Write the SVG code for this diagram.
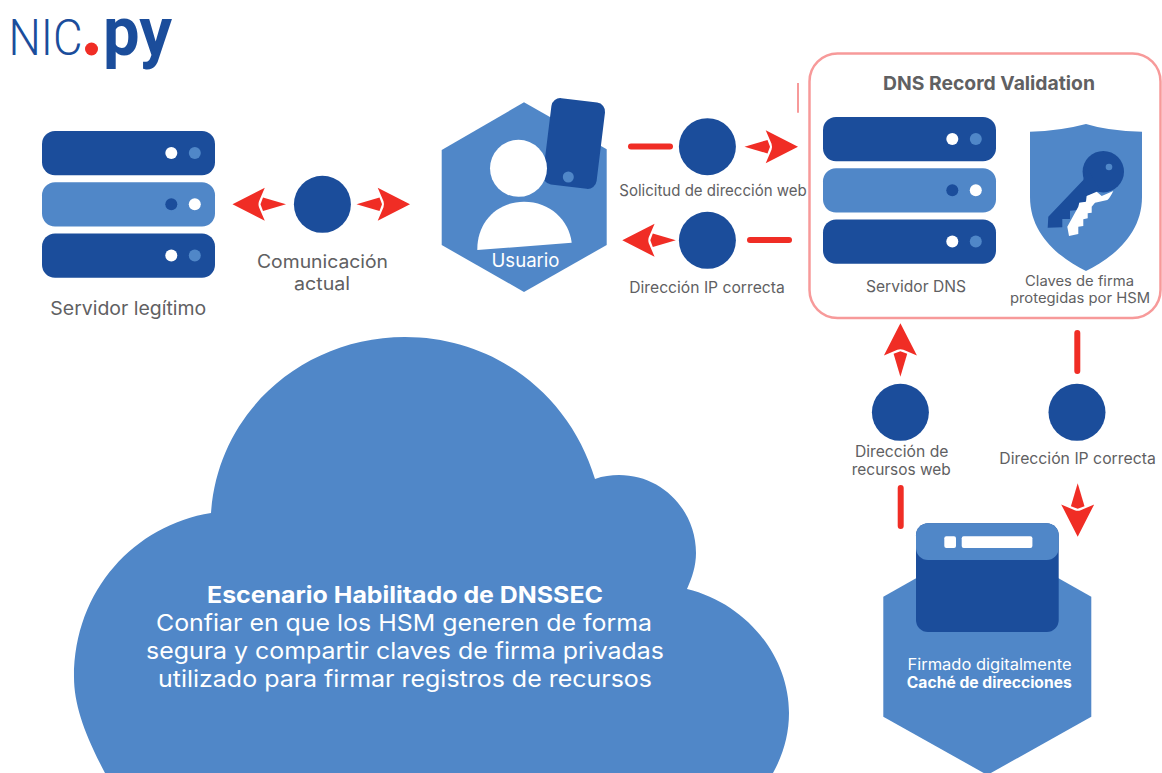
<svg xmlns="http://www.w3.org/2000/svg" width="1162" height="773" viewBox="0 0 1162 773">
<style>
.d{fill:#1b4d9b}.l{fill:#5087c8}.w{fill:#fff}.r{fill:#f02d25}
.t{font-family:"Inter","Liberation Sans",sans-serif;fill:#606062;font-size:15.500px;text-anchor:middle}
.tw{fill:#fff}.b{font-weight:700}
.ln{stroke:#f02d25;stroke-width:6;stroke-linecap:round;fill:none}
</style>
<defs>
<g id="arrow"><path class="r" d="M0 0L-32.300 -16.500L-26.500 -3Q-25.500 0 -26.500 3L-32.300 16.500Z"/><path class="r" d="M-53.500 0L-30.500 -6.800L-28 0L-30.500 6.800Z"/></g>
<g id="srvA"><rect class="d" width="173" height="44.300" rx="13"/><circle class="w" cx="129.300" cy="22" r="6"/><circle class="l" cx="152.800" cy="22" r="6"/></g>
<g id="srvB"><rect class="l" width="173" height="44.300" rx="13"/><circle class="d" cx="129.300" cy="22" r="6"/><circle class="w" cx="152.800" cy="22" r="6"/></g>
</defs>
<rect width="1162" height="773" fill="#fff"/>
<g id="logo">
<text x="8.500" y="55" font-family="Roboto,sans-serif" font-weight="300" font-size="50" fill="#1b4d9b" textLength="74" lengthAdjust="spacingAndGlyphs">NIC</text>
<circle class="r" cx="91.500" cy="49" r="6.500"/>
<text x="103" y="55" font-family="Roboto,sans-serif" font-weight="700" font-size="68" fill="#1b4d9b" textLength="69" lengthAdjust="spacingAndGlyphs">py</text>
</g>
<g id="cloud">
<path class="l" d="M105 773C85 735 74 705 74 677C74 590 135 525 211 513C218 410 305 337 405 337C495 337 570 395 595 479C603 476 611 475 619 475C662 475 696 510 696 553C696 566 692 578 687 589C745 603 789 655 789 713C789 735 783 755 773 773Z"/>
<text class="t tw b" x="405" y="603" style="font-size:23px" textLength="396" lengthAdjust="spacingAndGlyphs">Escenario Habilitado de DNSSEC</text>
<text class="t tw" x="404" y="631" style="font-size:23px" textLength="496" lengthAdjust="spacingAndGlyphs">Confiar en que los HSM generen de forma</text>
<text class="t tw" x="405" y="659" style="font-size:23px" textLength="518" lengthAdjust="spacingAndGlyphs">segura y compartir claves de firma privadas</text>
<text class="t tw" x="405" y="687" style="font-size:23px" textLength="494" lengthAdjust="spacingAndGlyphs">utilizado para firmar registros de recursos</text>
</g>
<g id="servidor-legitimo">
<use href="#srvA" x="42" y="131"/><use href="#srvB" x="42" y="182.300"/><use href="#srvA" x="42" y="233.500"/>
<text class="t" x="128.300" y="314.500" style="font-size:18.500px" textLength="156" lengthAdjust="spacingAndGlyphs">Servidor legítimo</text>
</g>
<g id="usuario">
<path class="l" d="M524 102.300L606.700 149.300V245L524 292L441.700 245V150Z"/>
<rect class="d" x="547" y="100" width="54" height="87" rx="9" transform="rotate(7 574 143.500)"/>
<circle class="l" cx="568.300" cy="177" r="5.500"/>
<circle class="w" cx="518.500" cy="168.300" r="28.500"/>
<path class="w" d="M477.300 250C477 222 497 201.700 524 201.700C550 201.700 569 220 571.700 242.700Z"/>
<text class="t tw" x="525.500" y="266.500" style="font-size:18.500px" textLength="68" lengthAdjust="spacingAndGlyphs">Usuario</text>
</g>
<g id="dns-validation">
<rect x="809.500" y="53.500" width="351" height="264.500" rx="28" fill="#fff" stroke="#f79a9a" stroke-width="2.500"/>
<text class="t b" x="989" y="90" style="font-size:19px" textLength="212" lengthAdjust="spacingAndGlyphs">DNS Record Validation</text>
<g id="servidor-dns">
<use href="#srvA" x="823" y="117"/><use href="#srvB" x="823" y="168.200"/><use href="#srvA" x="823" y="219.500"/>
<text class="t" x="916" y="292" textLength="100" lengthAdjust="spacingAndGlyphs">Servidor DNS</text>
</g>
<g id="claves-hsm">
<path class="l" d="M1086 124Q1060 131 1030 131.700V197C1030 235 1060 258 1086 271C1112 258 1142 235 1142 197V131.700Q1108 131 1086 124Z"/>
<circle class="d" cx="1103.300" cy="171.700" r="20.700"/>
<path class="d" d="M1086 166L1100 190L1095 193.300L1086.700 196L1086 201.700L1079.300 202.700L1078.300 210L1070 210.700V219H1062.300V227.300L1047.700 227.700L1048.300 216.700L1083.300 180Z"/>
<circle class="l" cx="1109" cy="167" r="3.300"/>
<path class="w" d="M1086.700 196L1096.700 191.700L1101.700 196L1113.300 191Q1110 198 1107.300 200L1095 202.700L1091.700 206.700V212.700L1087.700 213.300V218.300L1083.300 219.300V226L1078.300 226.700V234L1069 236L1067.300 226.700L1078.300 206.700L1079.300 202.700L1086 201.700Z"/>
<text class="t" x="1079.500" y="285.500" style="font-size:14px" textLength="109" lengthAdjust="spacingAndGlyphs">Claves de firma</text>
<text class="t" x="1080" y="302.500" style="font-size:14px" textLength="140" lengthAdjust="spacingAndGlyphs">protegidas por HSM</text>
</g>
</g>
<g id="cache">
<path class="l" d="M987.300 538L1091.300 596.700V716.700L987.300 775L883.300 716.700V596.700Z"/>
<rect class="d" x="916" y="523.300" width="142.700" height="108.700" rx="12"/>
<path class="l" d="M928 523.300H1046.700A12 12 0 0 1 1058.700 535.300V548A12 12 0 0 1 1046.700 560H928A12 12 0 0 1 916 548V535.300A12 12 0 0 1 928 523.300Z"/>
<rect class="w" x="944.300" y="536.300" width="11.700" height="11.700" rx="2"/>
<rect class="w" x="961.700" y="536.300" width="70.700" height="11.700" rx="2"/>
<text class="t tw" x="989.500" y="670" textLength="164" lengthAdjust="spacingAndGlyphs">Firmado digitalmente</text>
<text class="t tw b" x="989.300" y="687.700" textLength="165" lengthAdjust="spacingAndGlyphs">Caché de direcciones</text>
</g>
<g id="connectors">
<path d="M798 83V112.700" stroke="#f79a9a" stroke-width="2" fill="none"/>
<circle class="d" cx="322.400" cy="204.300" r="28.500"/>
<use href="#arrow" transform="translate(410,204.300)"/>
<use href="#arrow" transform="translate(232.500,204.300) rotate(180)"/>
<text class="t" x="322.500" y="268" style="font-size:18px" textLength="131" lengthAdjust="spacingAndGlyphs">Comunicación</text>
<text class="t" x="322" y="290" style="font-size:18px" textLength="56" lengthAdjust="spacingAndGlyphs">actual</text>
<path class="ln" d="M631 146.500H670"/>
<circle class="d" cx="707.400" cy="146.700" r="28.500"/>
<use href="#arrow" transform="translate(798,146.700)"/>
<text class="t" x="713" y="195.500" textLength="187.500" lengthAdjust="spacingAndGlyphs">Solicitud de dirección web</text>
<path class="ln" d="M750 240H789"/>
<circle class="d" cx="707.400" cy="240.300" r="28.500"/>
<use href="#arrow" transform="translate(622.300,240.300) rotate(180)"/>
<text class="t" x="707" y="293" textLength="155.500" lengthAdjust="spacingAndGlyphs">Dirección IP correcta</text>
<use href="#arrow" transform="translate(900.400,323.300) rotate(-90)"/>
<circle class="d" cx="900.400" cy="412.300" r="28.500"/>
<text class="t" x="901.700" y="457" textLength="93.500" lengthAdjust="spacingAndGlyphs">Dirección de</text>
<text class="t" x="901.300" y="475" textLength="99" lengthAdjust="spacingAndGlyphs">recursos web</text>
<path class="ln" d="M900.700 488V526"/>
<path class="ln" d="M1077.300 333V371"/>
<circle class="d" cx="1077" cy="412.300" r="28.500"/>
<text class="t" x="1077.500" y="464" textLength="156.500" lengthAdjust="spacingAndGlyphs">Dirección IP correcta</text>
<use href="#arrow" transform="translate(1077.700,536.700) rotate(90)"/>
</g>
</svg>
